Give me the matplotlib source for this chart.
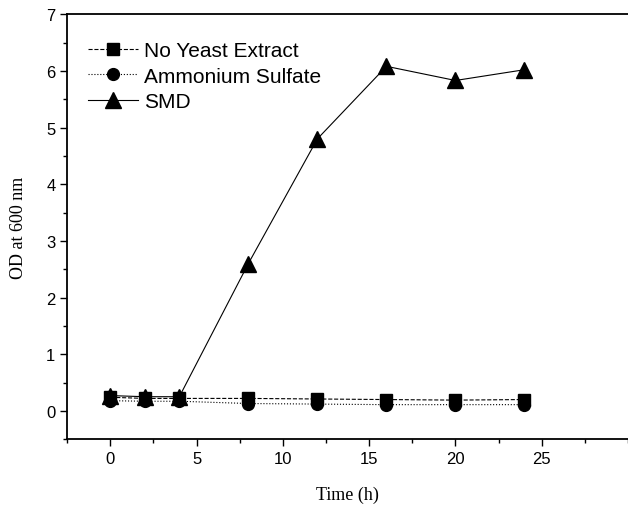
import matplotlib
matplotlib.use('Agg')
from matplotlib import pyplot as plt
from matplotlib.ticker import MultipleLocator

# time points (h)
time = [0, 2, 4, 8, 12, 16, 20, 24]

# OD at 600 nm
no_yeast = [0.24, 0.22, 0.22, 0.22, 0.21, 0.20, 0.19, 0.20]
ammonium = [0.18, 0.17, 0.17, 0.13, 0.12, 0.11, 0.11, 0.11]
smd = [0.27, 0.25, 0.25, 2.60, 4.80, 6.08, 5.83, 6.02]

fig = plt.figure(figsize=(6.28, 5.06), dpi=100)
ax = fig.add_axes([0.107, 0.130, 0.893, 0.840])

ax.plot(time, no_yeast, color='black', linestyle='--', linewidth=0.8,
        marker='s', markersize=8, label='No Yeast Extract')
ax.plot(time, ammonium, color='black', linestyle=':', linewidth=0.8,
        marker='o', markersize=8.5, label='Ammonium Sulfate')
ax.plot(time, smd, color='black', linestyle='-', linewidth=0.8,
        marker='^', markersize=12, label='SMD')

ax.set_xlim(-2.5, 30)
ax.set_ylim(-0.5, 7)
ax.xaxis.set_minor_locator(MultipleLocator(2.5))
ax.yaxis.set_minor_locator(MultipleLocator(0.5))
ax.set_xticks([0, 5, 10, 15, 20, 25])
ax.set_yticks(range(0, 8))

ax.tick_params(which='major', direction='out', length=5, width=1, labelsize=12)
ax.tick_params(which='minor', direction='out', length=3, width=1)
for lab in ax.get_xticklabels() + ax.get_yticklabels():
    lab.set_family('Liberation Sans')

ax.spines['right'].set_visible(False)
for s in ['left', 'bottom', 'top']:
    ax.spines[s].set_linewidth(1.3)

ax.set_xlabel('Time (h)', family='Liberation Serif', fontsize=13, labelpad=14)
ax.set_ylabel('OD at 600 nm', family='Liberation Serif', fontsize=13, labelpad=14)

ax.legend(loc='upper left', frameon=False, prop={'family': 'Liberation Sans', 'size': 15},
          handlelength=2.4, handletextpad=0.3, labelspacing=0.3,
          bbox_to_anchor=(0.0, 0.985), borderaxespad=0.6)

fig.savefig('out.png', dpi=100)
